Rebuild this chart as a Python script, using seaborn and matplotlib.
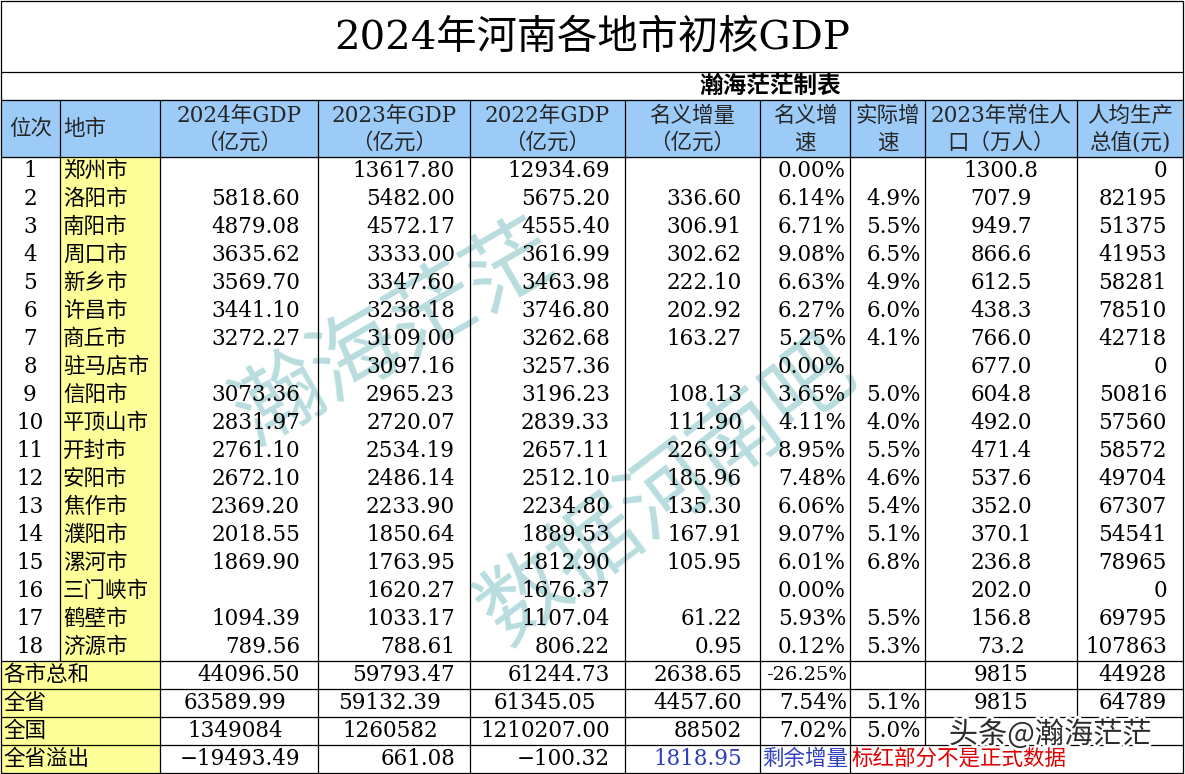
import matplotlib
matplotlib.use("Agg")
import matplotlib.pyplot as plt
import matplotlib.patheffects as pe
from matplotlib.patches import Rectangle
import seaborn as sns

sns.set_theme(style="white")
plt.rcParams['font.family'] = ['DejaVu Serif', 'Noto Sans CJK SC', 'DejaVu Sans']

# data
ranks = list(range(1, 19))
cities = ["郑州市", "洛阳市", "南阳市", "周口市", "新乡市", "许昌市", "商丘市", "驻马店市",
          "信阳市", "平顶山市", "开封市", "安阳市", "焦作市", "濮阳市", "漯河市", "三门峡市",
          "鹤壁市", "济源市"]
gdp2024 = [None, 5818.60, 4879.08, 3635.62, 3569.70, 3441.10, 3272.27, None, 3073.36,
           2831.97, 2761.10, 2672.10, 2369.20, 2018.55, 1869.90, None, 1094.39, 789.56]
gdp2023 = [13617.80, 5482.00, 4572.17, 3333.00, 3347.60, 3238.18, 3109.00, 3097.16, 2965.23,
           2720.07, 2534.19, 2486.14, 2233.90, 1850.64, 1763.95, 1620.27, 1033.17, 788.61]
gdp2022 = [12934.69, 5675.20, 4555.40, 3616.99, 3463.98, 3746.80, 3262.68, 3257.36, 3196.23,
           2839.33, 2657.11, 2512.10, 2234.80, 1889.53, 1812.90, 1676.37, 1107.04, 806.22]
nominal_inc = [None, 336.60, 306.91, 302.62, 222.10, 202.92, 163.27, None, 108.13,
               111.90, 226.91, 185.96, 135.30, 167.91, 105.95, None, 61.22, 0.95]
nominal_rate = [0.00, 6.14, 6.71, 9.08, 6.63, 6.27, 5.25, 0.00, 3.65,
                4.11, 8.95, 7.48, 6.06, 9.07, 6.01, 0.00, 5.93, 0.12]
real_rate = [None, 4.9, 5.5, 6.5, 4.9, 6.0, 4.1, None, 5.0,
             4.0, 5.5, 4.6, 5.4, 5.1, 6.8, None, 5.5, 5.3]
pop2023 = [1300.8, 707.9, 949.7, 866.6, 612.5, 438.3, 766.0, 677.0, 604.8,
           492.0, 471.4, 537.6, 352.0, 370.1, 236.8, 202.0, 156.8, 73.2]
per_capita = [0, 82195, 51375, 41953, 58281, 78510, 42718, 0, 50816,
              57560, 58572, 49704, 67307, 54541, 78965, 0, 69795, 107863]

summary_labels = ["各市总和", "全省", "全国", "全省溢出"]
row_sum = ["44096.50", "59793.47", "61244.73", "2638.65", "-26.25%", "", "9815", "44928"]
row_prov = ["63589.99", "59132.39", "61345.05", "4457.60", "7.54%", "5.1%", "9815", "64789"]
row_nation = ["1349084", "1260582", "1210207.00", "88502", "7.02%", "5.0%", "", ""]
row_overflow = ["\u221219493.49", "661.08", "\u2212100.32", "1818.95"]

headers = [["位次"], ["地市"], ["2024年GDP", "（亿元）"], ["2023年GDP", "（亿元）"],
           ["2022年GDP", "（亿元）"], ["名义增量", "（亿元）"], ["名义增", "速"],
           ["实际增", "速"], ["2023年常住人", "口（万人）"], ["人均生产", "总值(元)"]]

# layout (pixel coords)
W, H = 1185, 774
xs = [0.5, 60, 160, 318, 470, 625, 760, 850, 925, 1077, 1183]
y_title, y_sub, y_head, y_data = 72, 100, 157, 157
rh = 28
y_sum = y_data + rh * len(cities)
y_end = y_sum + rh * 4
fs = 15.5

fig = plt.figure(figsize=(W / 100, H / 100), dpi=100)
ax = fig.add_axes([0, 0, 1, 1])
ax.set_xlim(0, W)
ax.set_ylim(H, 0)
ax.axis("off")

blue = "#9ccbf8"
yellow = "#ffff99"
ax.add_patch(Rectangle((xs[0], y_sub), xs[-1] - xs[0], y_head - y_sub, color=blue, zorder=0))
ax.add_patch(Rectangle((xs[1], y_data), xs[2] - xs[1], y_sum - y_data, color=yellow, zorder=0))
ax.add_patch(Rectangle((xs[0], y_sum), xs[2] - xs[0], y_end - y_sum, color=yellow, zorder=0))

# watermarks (behind text)
wm = "#7fc0c4"
ax.text(395, 335, "瀚海茫茫", fontsize=64, color=wm, alpha=0.55, rotation=30,
        ha="center", va="center", zorder=1, family=["Noto Sans CJK SC"])
ax.text(668, 492, "数据河南吧", fontsize=64, color=wm, alpha=0.55, rotation=37,
        ha="center", va="center", zorder=1, family=["Noto Sans CJK SC"])

# grid lines
lk = dict(color="black", lw=0.9, zorder=3)
for y in [0.5, y_title, y_sub, y_head, y_sum, y_sum + rh, y_sum + 2 * rh, y_sum + 3 * rh, y_end]:
    ax.plot([xs[0], xs[-1]], [y, y], **lk)
for x in [xs[0], xs[-1]]:
    ax.plot([x, x], [0.5, y_end], **lk)
for i, x in enumerate(xs[1:-1], start=1):
    top, bot = y_sub, y_end
    if i == 1:
        bot = y_sum
    if i == 8:
        bot = y_sum + 3 * rh
    if i == 9:
        bot = y_sum + 2 * rh
    ax.plot([x, x], [top, bot], **lk)

# title
ax.text(592, 38, "2024年河南各地市初核GDP", fontsize=29, ha="center", va="center", color="black")
ax.text(770, 86, "瀚海茫茫制表", fontsize=17, ha="center", va="center", color="black",
        fontweight="bold")

# header
for i, lines in enumerate(headers):
    cx = (xs[i] + xs[i + 1]) / 2
    if len(lines) == 1:
        if i == 1:
            ax.text(63, 129, lines[0], fontsize=fs, ha="left", va="center", zorder=4)
        else:
            ax.text(cx, 129, lines[0], fontsize=fs, ha="center", va="center", zorder=4)
    else:
        ax.text(cx, 116, lines[0], fontsize=fs, ha="center", va="center", zorder=4)
        ax.text(cx, 143, lines[1], fontsize=fs, ha="center", va="center", zorder=4)

rights = [300, 455, 610, 742, 846, 921]
pop_cx = 1001
pc_right = 1167


def put(x, y, s, ha="right", color="black", size=fs):
    ax.text(x, y, s, fontsize=size, ha=ha, va="center", color=color, zorder=4)


for r in range(len(cities)):
    cy = y_data + rh * r + rh / 2
    put(30, cy, str(ranks[r]), ha="center")
    put(63, cy, cities[r], ha="left")
    vals = [gdp2024[r], gdp2023[r], gdp2022[r], nominal_inc[r]]
    for v, xr in zip(vals, rights[:4]):
        if v is not None:
            put(xr, cy, f"{v:.2f}")
    put(rights[4], cy, f"{nominal_rate[r]:.2f}%")
    if real_rate[r] is not None:
        put(rights[5], cy, f"{real_rate[r]:.1f}%")
    put(pop_cx, cy, f"{pop2023[r]:.1f}", ha="center")
    put(pc_right, cy, str(per_capita[r]))

# summary rows
centers = [235, 390, 545]
for k, row in enumerate([row_sum, row_prov, row_nation]):
    cy = y_sum + rh * k + rh / 2
    put(3, cy, summary_labels[k], ha="left")
    for j in range(3):
        if k == 0:
            put(rights[j], cy, row[j])
        else:
            put(centers[j], cy, row[j], ha="center")
    put(rights[3], cy, row[3])
    put(rights[4] + 1, cy, row[4], size=14 if len(row[4]) > 6 else fs)
    if row[5]:
        put(rights[5], cy, row[5])
    if row[6]:
        put(pop_cx, cy, row[6], ha="center")
    if row[7]:
        put(pc_right, cy, row[7])

cy = y_sum + rh * 3 + rh / 2
put(3, cy, summary_labels[3], ha="left")
for j in range(3):
    put(rights[j], cy, row_overflow[j])
put(rights[3], cy, row_overflow[3], color="#2f3fbf")
put(805, cy, "剩余增量", ha="center", color="#2f3fbf")
put(852, cy, "标红部分不是正式数据", ha="left", color="#e00000")

# platform watermark
ax.text(1050, 735, "头条@瀚海茫茫", fontsize=21, ha="center", va="center", color="#2b2b2b",
        zorder=6, family=["Noto Sans CJK SC"],
        path_effects=[pe.withStroke(linewidth=4, foreground="white")])

fig.savefig("out.png", dpi=100)
